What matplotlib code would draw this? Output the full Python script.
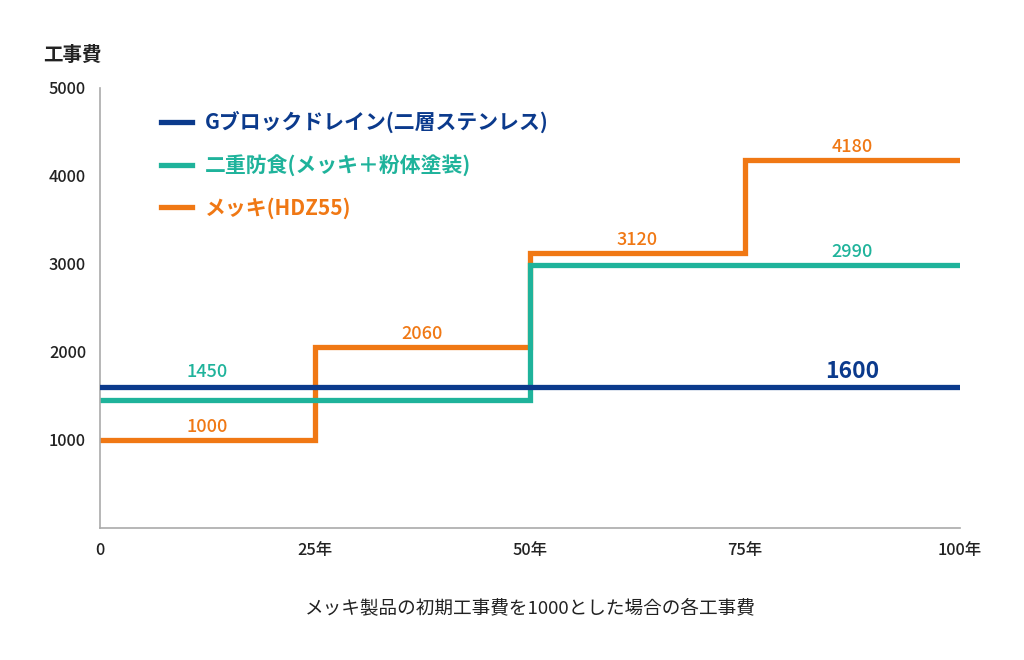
import matplotlib
matplotlib.use("Agg")
import matplotlib.pyplot as plt

plt.rcParams["font.family"] = ["Noto Sans CJK JP", "DejaVu Sans"]

# --- data ---
years = [0, 25, 50, 75, 100]
xtick_labels = ["0", "25年", "50年", "75年", "100年"]
yticks = [1000, 2000, 3000, 4000, 5000]

gblock = [1600, 1600, 1600, 1600]
nijuu = [1450, 1450, 2990, 2990]
mekki = [1000, 2060, 3120, 4180]

names = ["Gブロックドレイン(二層ステンレス)", "二重防食(メッキ＋粉体塗装)", "メッキ(HDZ55)"]
colors = ["#0b3a8c", "#1fb39b", "#f07814"]

# label positions (segment midpoints) and texts
mekki_label_x = [12.5, 37.5, 62.5, 87.5]
nijuu_label_x = [12.5, 87.5]
nijuu_label_vals = [1450, 2990]
nijuu_label_off = [14, 3]
gblock_label_x = 87.5

fig = plt.figure(figsize=(10.24, 6.6), dpi=100)
ax = fig.add_axes([100 / 1024, 0.2, 860 / 1024, 440 / 660])

lw = 3.8
for vals, c, name, z in [(gblock, colors[0], names[0], 3),
                         (nijuu, colors[1], names[1], 2),
                         (mekki, colors[2], names[2], 1)]:
    ax.step(years, vals + [vals[-1]], where="post", color=c, lw=lw,
            label=name, zorder=z, solid_joinstyle="miter")

for x, v in zip(mekki_label_x, mekki):
    ax.annotate(str(v), (x, v), xytext=(0, 3), textcoords="offset points",
                ha="center", va="bottom", color=colors[2], fontsize=13, fontweight="medium")
for x, v, off in zip(nijuu_label_x, nijuu_label_vals, nijuu_label_off):
    ax.annotate(str(v), (x, v), xytext=(0, off), textcoords="offset points",
                ha="center", va="bottom", color=colors[1], fontsize=13, fontweight="medium")
ax.annotate(str(gblock[0]), (gblock_label_x, gblock[0]), xytext=(0, 3),
            textcoords="offset points", ha="center", va="bottom",
            color=colors[0], fontsize=16.5, fontweight="bold")

ax.set_xlim(0, 100)
ax.set_ylim(0, 5000)
ax.set_xticks(years)
ax.set_xticklabels(xtick_labels)
ax.set_yticks(yticks)
ax.tick_params(length=0, labelsize=11.8, colors="#222222", pad=10)
for lab in ax.get_xticklabels() + ax.get_yticklabels():
    lab.set_fontweight("medium")
for s in ["top", "right"]:
    ax.spines[s].set_visible(False)
for s in ["left", "bottom"]:
    ax.spines[s].set_color("#aaaaaa")
    ax.spines[s].set_linewidth(1.2)

leg = ax.legend(loc="upper left", bbox_to_anchor=(0.049, 0.99), frameon=False,
                prop={"size": 15, "weight": "bold"}, handlelength=1.5,
                handletextpad=0.6, labelspacing=1.0, labelcolor="linecolor")

fig.text(72 / 1024, 1 - 55 / 660, "工事費", ha="center", va="center",
         fontsize=14, fontweight="bold", color="#222222")
fig.text(530 / 1024, 1 - 608 / 660, "メッキ製品の初期工事費を1000とした場合の各工事費",
         ha="center", va="center", fontsize=13.4, color="#222222")

fig.savefig("out.png", dpi=100, facecolor="white")
